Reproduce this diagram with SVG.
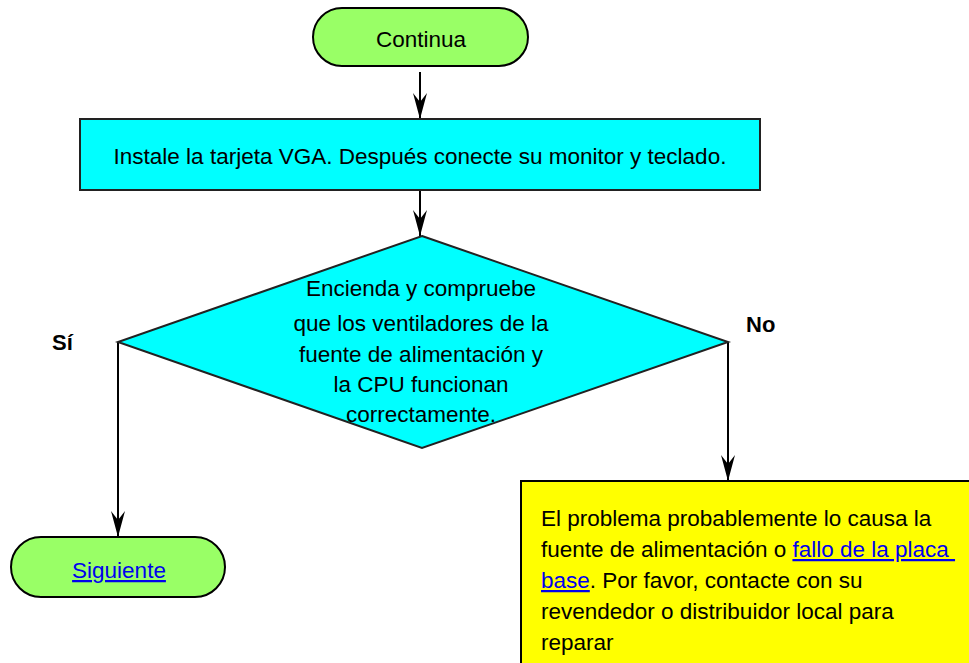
<svg xmlns="http://www.w3.org/2000/svg" width="969" height="663" viewBox="0 0 969 663">
<style>
text{font-family:"Liberation Sans",Arial,sans-serif;font-size:22.5px;fill:#000}
.c{text-anchor:middle}
.b{font-weight:bold;font-size:22px}
.lnk{fill:#0000EE;text-decoration:underline}
.term{fill:#99FF66;stroke:#000;stroke-width:2}
.proc{fill:#00FFFF;stroke:#222;stroke-width:2}
.note{fill:#FFFF00;stroke:#000;stroke-width:2}
.edge{fill:none;stroke:#000;stroke-width:2}
</style>
<defs>
<marker id="ah" viewBox="0 0 26 14" refX="26" refY="7" markerWidth="26" markerHeight="14" markerUnits="userSpaceOnUse" orient="auto">
<path d="M0,0 L26,7 L0,14 L9,7 Z" fill="#000"/>
</marker>
</defs>
<rect width="969" height="663" fill="#fff"/>
<g id="connectors">
<line class="edge" x1="420" y1="72" x2="420" y2="119" marker-end="url(#ah)"/>
<line class="edge" x1="420" y1="190" x2="420" y2="236" marker-end="url(#ah)"/>
<polyline class="edge" points="118,342 118,537" marker-end="url(#ah)"/>
<polyline class="edge" points="728,342 728,481" marker-end="url(#ah)"/>
</g>
<g id="node-continua">
<rect class="term" x="313" y="8" width="215" height="58" rx="29" ry="29"/>
<text class="c" x="421" y="47">Continua</text>
</g>
<g id="node-instale">
<rect class="proc" x="80" y="119" width="680" height="71"/>
<text class="c" x="420" y="164">Instale la tarjeta VGA. Después conecte su monitor y teclado.</text>
</g>
<g id="node-decision">
<polygon class="proc" points="422,236 728,342 422,448 118,342"/>
<text class="c" x="421" y="296">Encienda y compruebe</text>
<text class="c" x="421" y="331">que los ventiladores de la</text>
<text class="c" x="421" y="362">fuente de alimentación y</text>
<text class="c" x="421" y="392">la CPU funcionan</text>
<text class="c" x="421" y="422">correctamente.</text>
</g>
<g id="label-si"><text class="b" x="52" y="350">Sí</text></g>
<g id="label-no"><text class="b" x="746" y="332">No</text></g>
<g id="node-siguiente">
<rect class="term" x="11" y="537" width="214" height="60" rx="30" ry="30"/>
<text class="c lnk" x="119" y="578">Siguiente</text>
</g>
<g id="node-problema">
<rect class="note" x="521" y="481" width="460" height="200"/>
<text x="541" y="526">El problema probablemente lo causa la</text>
<text x="541" y="557">fuente de alimentación o <tspan class="lnk">fallo de la placa&#160;</tspan></text>
<text x="541" y="588"><tspan class="lnk">base</tspan>. Por favor, contacte con su</text>
<text x="541" y="619">revendedor o distribuidor local para</text>
<text x="541" y="650">reparar</text>
</g>
</svg>
